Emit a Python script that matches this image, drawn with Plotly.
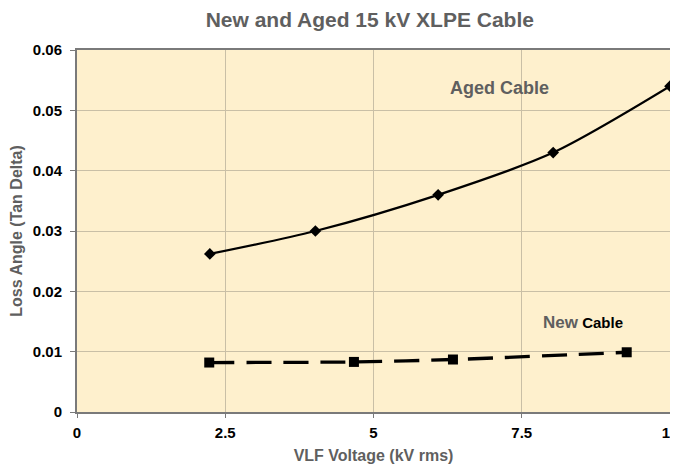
import plotly.graph_objects as go

aged_x = [2.24, 4.02, 6.09, 8.03, 10.0]
aged_y = [0.0262, 0.0300, 0.0360, 0.0430, 0.0540]
new_x = [2.23, 4.67, 6.34, 9.27]
new_y = [0.0082, 0.0083, 0.0087, 0.0099]
x_ticks = [0, 2.5, 5, 7.5, 10]
x_tick_labels = ["0", "2.5", "5", "7.5", "10"]
y_ticks = [0, 0.01, 0.02, 0.03, 0.04, 0.05, 0.06]
y_tick_labels = ["0", "0.01", "0.02", "0.03", "0.04", "0.05", "0.06"]

font = "Liberation Sans, Arial, sans-serif"

fig = go.Figure()
fig.add_trace(go.Scatter(
    x=aged_x, y=aged_y, mode="lines+markers", cliponaxis=False,
    line=dict(color="black", width=2.3, shape="spline", smoothing=0.8),
    marker=dict(symbol="diamond", size=9, color="black"),
    name="Aged Cable", showlegend=False))
fig.add_trace(go.Scatter(
    x=new_x, y=new_y, mode="lines+markers", cliponaxis=False,
    line=dict(color="black", width=3.3, shape="spline", smoothing=0.8, dash="25px,12px"),
    marker=dict(symbol="square", size=10, color="black"),
    name="New Cable", showlegend=False))

fig.add_annotation(x=7.13, y=0.0537, xref="x", yref="y", text="<b>Aged Cable</b>",
                   showarrow=False, font=dict(family=font, size=18, color="#5f5f5f"))
fig.add_annotation(x=8.54, y=0.0149, xref="x", yref="y",
                   text="<b><span style='color:#5f5f5f;font-size:17px'>New</span> <span style='font-size:15px'>Cable</span></b>",
                   showarrow=False, font=dict(family=font, size=15, color="black"))

# page body adds an 8px offset, so the figure is sized to the visible area
fig.update_layout(
    width=670, height=459,
    margin=dict(l=69, r=8, t=42, b=55),
    paper_bgcolor="white", plot_bgcolor="#FEF0CD",
    title=dict(text="<b>New and Aged 15 kV XLPE Cable</b>", x=0.540, xanchor="center",
               y=0.975, yanchor="middle",
               font=dict(family=font, size=21, color="#5f5f5f")),
    font=dict(family=font),
)
fig.update_xaxes(
    range=[0, 10], tickvals=x_ticks, ticktext=["<b>%s</b>" % t for t in x_tick_labels],
    tickfont=dict(family=font, size=15, color="black"), ticklabelstandoff=2,
    ticklabeloverflow="allow",
    title=dict(text="<b>VLF Voltage (kV rms)</b>", font=dict(family=font, size=16, color="#5f5f5f"), standoff=10),
    showgrid=True, gridcolor="#C9BFA6", gridwidth=1,
    showline=True, linecolor="#7a7a7a", linewidth=2, mirror=True,
    ticks="outside", ticklen=4, tickcolor="#7a7a7a", zeroline=False, automargin=False,
)
fig.update_yaxes(
    range=[0, 0.06], tickvals=y_ticks, ticktext=["<b>%s</b>" % t for t in y_tick_labels],
    tickfont=dict(family=font, size=15, color="black"), ticklabelstandoff=5,
    ticklabeloverflow="allow",
    title=dict(text="<b>Loss Angle (Tan Delta)</b>", font=dict(family=font, size=16, color="#5f5f5f"), standoff=9),
    showgrid=True, gridcolor="#C9BFA6", gridwidth=1,
    showline=True, linecolor="#7a7a7a", linewidth=2, mirror=True,
    ticks="outside", ticklen=5, tickcolor="#7a7a7a", zeroline=False, automargin=False,
)

fig.write_html("out.html")
